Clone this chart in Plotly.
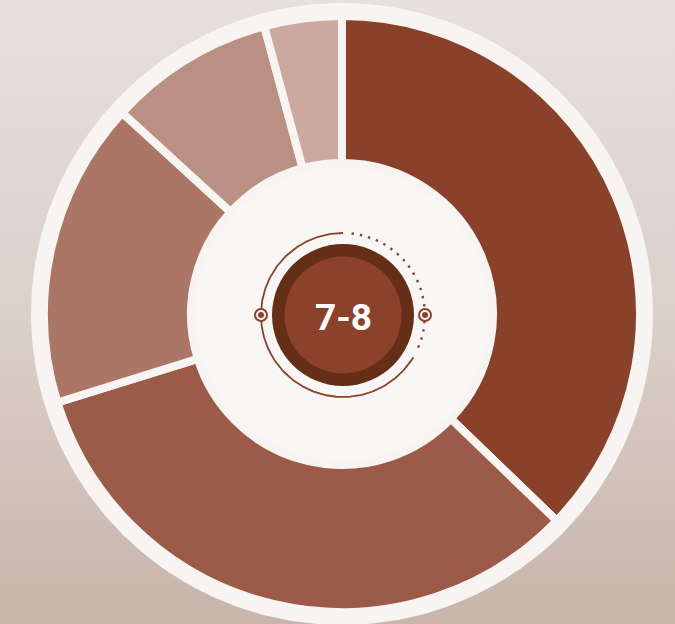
import numpy as np
import plotly.graph_objects as go

# ---- data ----
segments = ["Segment 1", "Segment 2", "Segment 3", "Segment 4", "Segment 5"]
shares = [37.2, 33.0, 16.6, 9.0, 4.2]
slice_colors = ["#8a4129", "#9c5b48", "#ac7666", "#bb9084", "#cca99f"]
center_label = "7-8"

W, H = 675, 624
cx, cy = 342, 314          # donut centre (px)
R_pie = 298                # pie radius incl. half the separator stroke
ring_col = "#f7f4f2"
accent = "#8b412a"
dark_ring = "#652e16"

fig = go.Figure()

# background gradient
fig.add_trace(go.Scatter(
    x=[0, W, W, 0, 0], y=[0, 0, H, H, 0], mode="lines", line=dict(width=0),
    fill="toself",
    fillgradient=dict(type="vertical", start=0, stop=H,
                      colorscale=[[0, "#e7e0dc"], [0.5, "#dbd0ca"], [1, "#c8b5ab"]]),
    hoverinfo="skip", showlegend=False))

# outer white disc
t = np.linspace(0, 2 * np.pi, 361)
R_out = 311
fig.add_trace(go.Scatter(
    x=cx + R_out * np.cos(t), y=cy + R_out * np.sin(t), mode="lines",
    line=dict(width=0), fill="toself", fillcolor=ring_col,
    hoverinfo="skip", showlegend=False))

# inner hole (slightly whiter)
R_hole = 150
fig.add_trace(go.Scatter(
    x=cx + R_hole * np.cos(t), y=cy + R_hole * np.sin(t), mode="lines",
    line=dict(width=0), fill="toself", fillcolor="#f9f7f6",
    hoverinfo="skip", showlegend=False))

# centre decoration arcs
dcx, dcy, r_arc = 343, 315, 82
a_solid = np.radians(np.linspace(90, 329, 200))
fig.add_trace(go.Scatter(
    x=dcx + r_arc * np.cos(a_solid), y=dcy - r_arc * np.sin(a_solid),
    mode="lines", line=dict(color=accent, width=1.8),
    hoverinfo="skip", showlegend=False))
a_dot = np.radians(np.linspace(84, -27, 200))
fig.add_trace(go.Scatter(
    x=dcx + r_arc * np.cos(a_dot), y=dcy - r_arc * np.sin(a_dot),
    mode="lines", line=dict(color=accent, width=2.4, dash="2.4px,6px"),
    hoverinfo="skip", showlegend=False))
# end markers on arc
for ang in (0, 180):
    px = dcx + r_arc * np.cos(np.radians(ang))
    py = dcy - r_arc * np.sin(np.radians(ang))
    fig.add_trace(go.Scatter(
        x=[px], y=[py], mode="markers",
        marker=dict(size=12, color="#f9f7f6", line=dict(color=accent, width=2)),
        hoverinfo="skip", showlegend=False))
    fig.add_trace(go.Scatter(
        x=[px], y=[py], mode="markers",
        marker=dict(size=6, color=accent, line=dict(width=0)),
        hoverinfo="skip", showlegend=False))

# donut
fig.add_trace(go.Pie(
    labels=segments, values=shares, sort=False, direction="clockwise",
    rotation=0, hole=151 / R_pie,
    marker=dict(colors=slice_colors, line=dict(color=ring_col, width=8)),
    textinfo="none", hoverinfo="label+percent", showlegend=False,
    domain=dict(x=[(cx - R_pie) / W, (cx + R_pie) / W],
                y=[(H - cy - R_pie) / H, (H - cy + R_pie) / H])))

shapes = [
    dict(type="circle", xref="x", yref="y", layer="above",
         x0=dcx - 71, x1=dcx + 71, y0=dcy - 71, y1=dcy + 71,
         fillcolor=dark_ring, line=dict(width=0)),
    dict(type="circle", xref="x", yref="y", layer="above",
         x0=dcx - 58.5, x1=dcx + 58.5, y0=dcy - 58.5, y1=dcy + 58.5,
         fillcolor=accent, line=dict(width=0)),
]

fig.update_layout(
    width=W, height=H, margin=dict(l=0, r=0, t=0, b=0),
    paper_bgcolor="#d8ccc6", plot_bgcolor="rgba(0,0,0,0)",
    xaxis=dict(range=[0, W], visible=False, fixedrange=True),
    yaxis=dict(range=[H, 0], visible=False, fixedrange=True),
    shapes=shapes,
    annotations=[dict(x=dcx, y=dcy + 2, xref="x", yref="y", text=f"<b>{center_label}</b>",
                      showarrow=False,
                      font=dict(family="Roboto", size=37, color="white"))],
    showlegend=False,
)

fig.write_html("out.html", config={"displayModeBar": False},
               post_script="document.body.style.margin='0';document.body.style.overflow='hidden';")
